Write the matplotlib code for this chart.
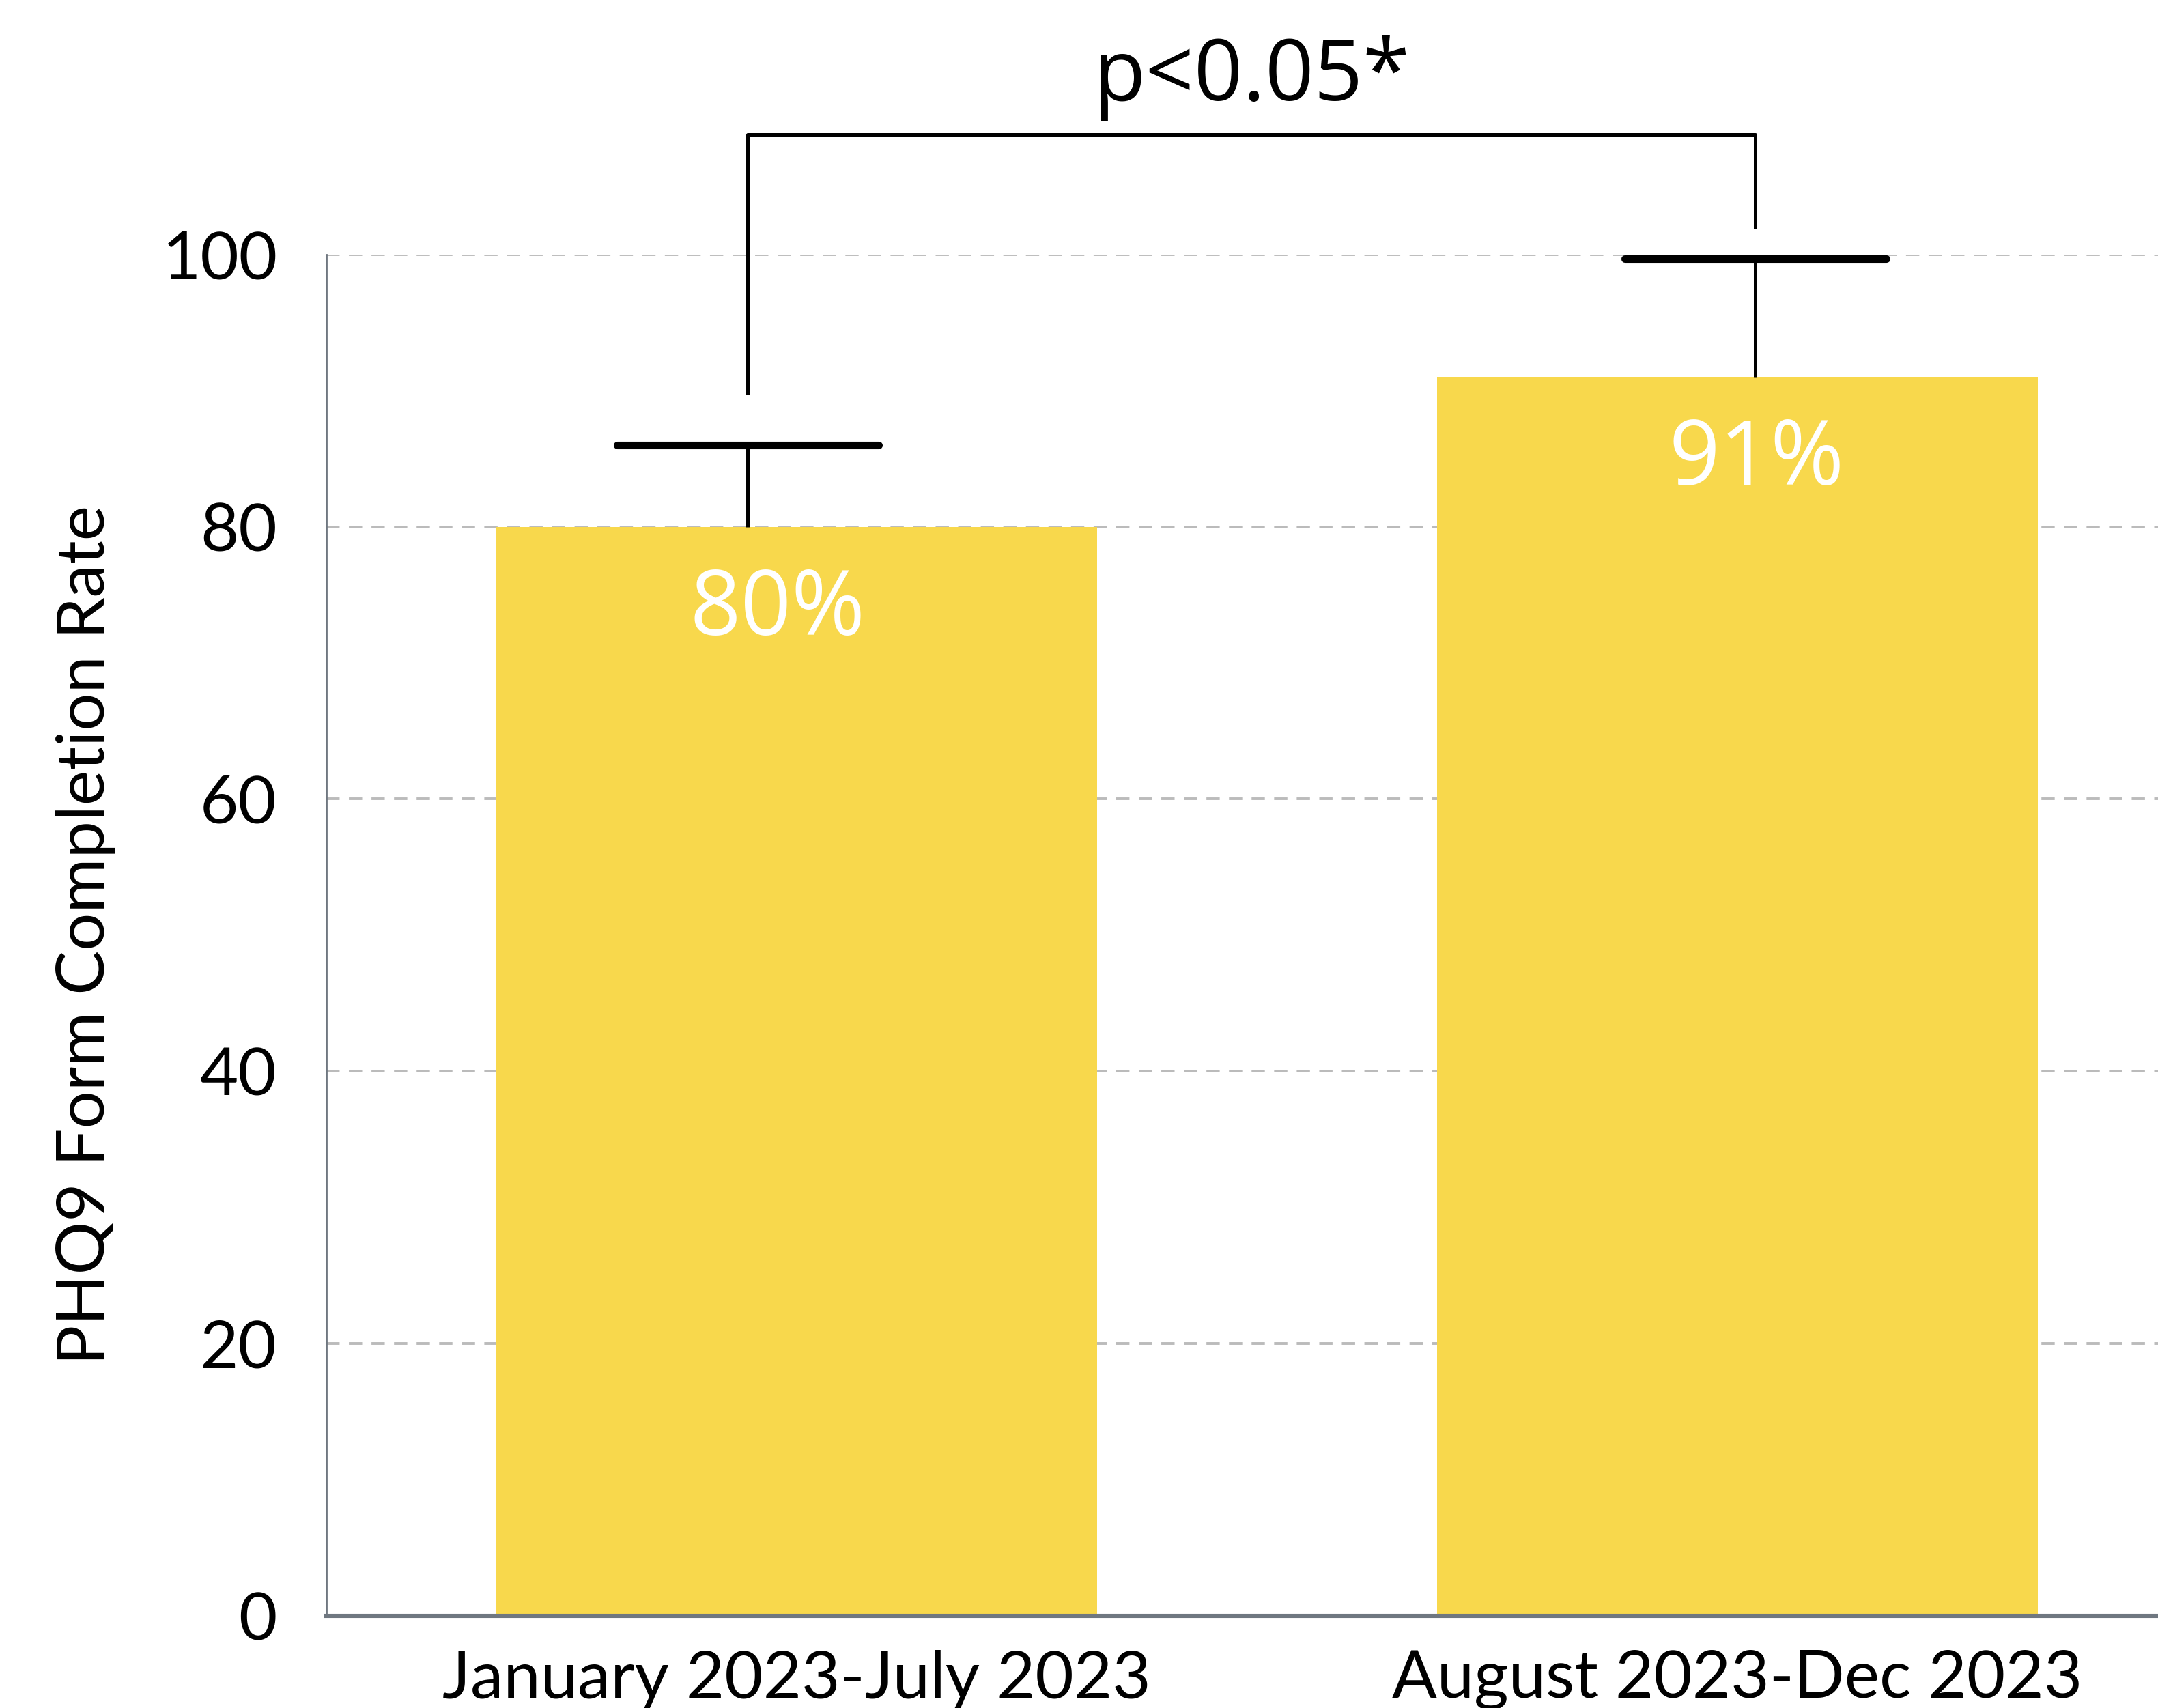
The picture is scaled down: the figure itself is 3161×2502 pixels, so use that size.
import matplotlib.pyplot as plt
import numpy as np

periods = ["January 2023-July 2023", "August 2023-Dec 2023"]
rates = [80, 91]
err_upper = [6, 8.7]
p_label = "p<0.05*"

bar_color = "#F8D84C"
x = np.arange(len(periods))

fig = plt.figure(figsize=(15.805, 12.51), dpi=200)
ax = fig.add_axes([0.1512, 0.054, 0.8488, 0.797])

ax.bar(x, rates, width=0.638, color=bar_color, zorder=2)

# upper error bars only, set a little off the bar centres
err_x = x + np.array([-0.052, 0.019])
tops = np.array(rates) + np.array(err_upper)
ax.vlines(err_x, rates, tops, color="black", lw=1.8, zorder=3)
ax.hlines(tops, err_x - 0.139, err_x + 0.139, color="black", lw=4.0,
          capstyle="round", zorder=3, clip_on=False)

for xi, r in zip(x + np.array([-0.02, 0.02]), rates):
    ax.text(xi, r - 6.2, f"{r}%", ha="center", va="center", color="white",
            fontsize=47, family="Open Sans", zorder=4)

# significance bracket
top = 108.8
left_x, right_x = err_x
ax.plot([left_x, left_x, right_x, right_x],
        [tops[0] + 3.7, top, top, tops[1] + 2.2],
        color="black", lw=1.8, clip_on=False, solid_capstyle="butt")
ax.text((left_x + right_x) / 2, 111.3, p_label, ha="center", va="baseline",
        fontsize=45, family="Open Sans")

ax.set_xlim(-0.5, 1.447)
ax.set_ylim(0, 100)
ax.set_yticks([0, 20, 40, 60, 80, 100])
ax.set_xticks(x)
ax.set_xticklabels(periods, family="Lato", fontsize=35)
for lab in ax.get_yticklabels():
    lab.set_family("Lato")
    lab.set_fontsize(35)
ax.tick_params(axis="y", length=0, pad=26)
ax.tick_params(axis="x", length=0, pad=18)

ax.yaxis.grid(True, color="#BBBBBB", linestyle=(0, (5, 3.5)), lw=1.4, zorder=0)
ax.set_axisbelow(True)

ax.set_ylabel("PHQ9 Form Completion Rate", family="Lato", fontsize=35, labelpad=24)

for s in ["top", "right"]:
    ax.spines[s].set_visible(False)
ax.spines["left"].set_color("#6F7780")
ax.spines["left"].set_linewidth(1.0)
ax.spines["bottom"].set_color("#6F7780")
ax.spines["bottom"].set_linewidth(2.2)

fig.savefig("out.png", dpi=200)
